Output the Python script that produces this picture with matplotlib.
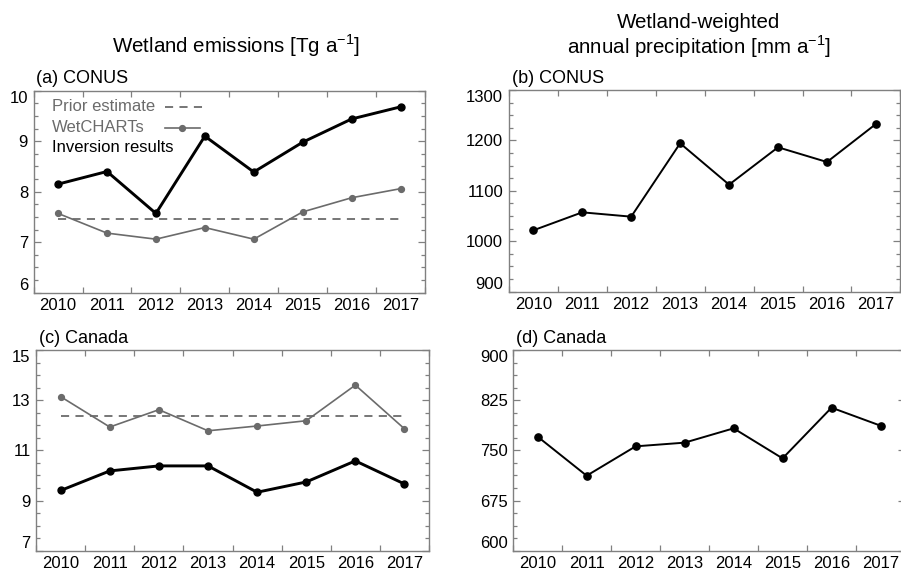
import matplotlib
matplotlib.use("Agg")
import matplotlib.pyplot as plt
import numpy as np

plt.rcParams['font.family'] = ['Liberation Sans', 'DejaVu Sans']
plt.rcParams['xtick.labelsize'] = 12
plt.rcParams['ytick.labelsize'] = 12

years = [2010, 2011, 2012, 2013, 2014, 2015, 2016, 2017]

# wetland emissions, Tg/a
conus_inversion = [8.15, 8.40, 7.57, 9.10, 8.39, 8.98, 9.44, 9.68]
conus_wetcharts = [7.57, 7.18, 7.06, 7.29, 7.06, 7.60, 7.88, 8.06]
conus_prior = 7.46
canada_inversion = [9.40, 10.18, 10.38, 10.38, 9.33, 9.74, 10.58, 9.66]
canada_wetcharts = [13.14, 11.93, 12.62, 11.78, 11.97, 12.18, 13.60, 11.86]
canada_prior = 12.38

# wetland-weighted annual precipitation, mm/a
conus_precip = [1021.7, 1057.4, 1048.8, 1194.3, 1112.3, 1186.4, 1157.2, 1232.6]
canada_precip = [770.4, 712.1, 756.0, 761.5, 782.9, 738.0, 813.8, 786.9]

legend_labels = ['Prior estimate', 'WetCHARTs', 'Inversion results']

W, H = 901, 571
GRAY = '#6b6b6b'
FRAME = '#808080'
DASH = (0, (4.5, 3.5))

fig = plt.figure(figsize=(W / 100, H / 100), dpi=100)


def px_axes(left, top, right, bottom):
    return fig.add_axes([left / W, 1 - bottom / H, (right - left) / W, (bottom - top) / H])


def style(ax, ylo, yhi, ystep, yminor):
    ax.set_xlim(years[0] - 0.5, years[-1] + 0.5)
    ax.set_ylim(ylo, yhi)
    ax.set_xticks(np.arange(years[0] - 0.5, years[-1] + 1.0, 1.0))
    ax.set_xticklabels([])
    ax.set_xticks(years, minor=True)
    ax.set_xticklabels([str(y) for y in years], minor=True, fontsize=12)
    ax.tick_params(axis='x', which='major', direction='in', top=True, bottom=True,
                   length=4.5, width=0.9, color=FRAME)
    ax.tick_params(axis='x', which='minor', length=0, pad=4)
    ax.set_yticks(np.arange(ylo, yhi + ystep / 2, ystep))
    ax.set_yticks(np.arange(ylo, yhi + yminor / 2, yminor), minor=True)
    ax.tick_params(axis='y', which='both', direction='in', left=True, right=True,
                   color=FRAME, width=0.9, pad=4)
    ax.tick_params(axis='y', which='major', length=5)
    ax.tick_params(axis='y', which='minor', length=2.8)
    for s in ax.spines.values():
        s.set_color(FRAME)
        s.set_linewidth(1.0)


def end_labels(ax):
    # keep the end labels inside the frame height
    labels = ax.get_yticklabels()
    labels[0].set_va('bottom')
    labels[-1].set_va('top')


def panel_label(ax, text):
    ax.annotate(text, xy=(0, 1), xycoords='axes fraction', xytext=(2, 2.5),
                textcoords='offset points', ha='left', va='bottom', fontsize=13)


# (a) CONUS emissions
ax_a = px_axes(33.6, 90.7, 425, 292.7)
ax_a.plot(years, [conus_prior] * len(years), color=GRAY, lw=1.3, ls=DASH)
ax_a.plot(years, conus_wetcharts, color=GRAY, lw=1.2, marker='o', ms=4.2)
ax_a.plot(years, conus_inversion, color='black', lw=2.1, marker='o', ms=5)
style(ax_a, 6, 10, 1, 0.25)
ax_a.set_yticklabels(['6', '7', '8', '9', '10'])
end_labels(ax_a)
panel_label(ax_a, '(a) CONUS')

# key in the upper left corner
key_rows = [0.92, 0.816, 0.717]
for lab, yr, c in zip(legend_labels, key_rows, [GRAY, GRAY, 'black']):
    ax_a.text(0.046, yr, lab, transform=ax_a.transAxes, color=c, fontsize=12,
              ha='left', va='center')
ax_a.plot([0.336, 0.432], [key_rows[0]] * 2, transform=ax_a.transAxes,
          color=GRAY, lw=1.3, ls=DASH)
ax_a.plot([0.336, 0.425], [key_rows[1]] * 2, transform=ax_a.transAxes,
          color=GRAY, lw=1.2)
ax_a.plot([0.380], [key_rows[1]], transform=ax_a.transAxes,
          color=GRAY, marker='o', ms=4.2)

# (b) CONUS precipitation
ax_b = px_axes(508.8, 90, 900.4, 291.7)
ax_b.plot(years, conus_precip, color='black', lw=1.4, marker='o', ms=5.2)
style(ax_b, 900, 1300, 100, 25)
end_labels(ax_b)
panel_label(ax_b, '(b) CONUS')

# (c) Canada emissions
ax_c = px_axes(36.1, 350, 429, 550.7)
ax_c.plot(years, [canada_prior] * len(years), color=GRAY, lw=1.3, ls=DASH)
ax_c.plot(years, canada_wetcharts, color=GRAY, lw=1.2, marker='o', ms=4.2)
ax_c.plot(years, canada_inversion, color='black', lw=2.1, marker='o', ms=5)
style(ax_c, 7, 15, 2, 0.5)
end_labels(ax_c)
panel_label(ax_c, '(c) Canada')

# (d) Canada precipitation
ax_d = px_axes(513.2, 350, 905, 550.7)
ax_d.plot(years, canada_precip, color='black', lw=1.4, marker='o', ms=5.2)
style(ax_d, 600, 900, 75, 18.75)
end_labels(ax_d)
panel_label(ax_d, '(d) Canada')

fig.text(235.5 / W, 1 - 45.5 / H, r'Wetland emissions [Tg a$^{\mathregular{-1}}$]',
         ha='center', va='center', fontsize=14.8)
fig.text(699 / W, 1 - 36.5 / H,
         'Wetland-weighted\n' + r'annual precipitation [mm a$^{\mathregular{-1}}$]',
         ha='center', va='center', fontsize=14.8, linespacing=1.1)

fig.savefig('out.png', dpi=100)
